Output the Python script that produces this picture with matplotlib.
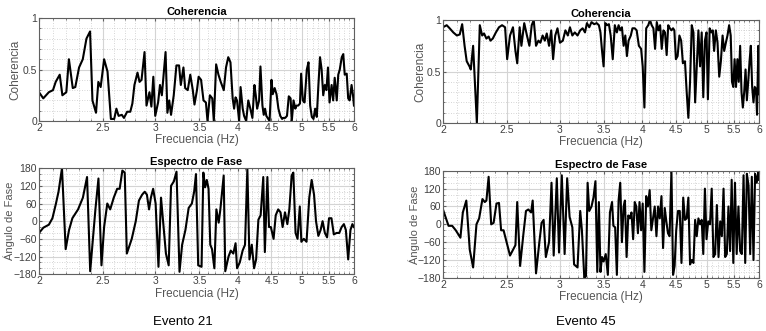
import numpy as np
import matplotlib
matplotlib.use("Agg")
import matplotlib.pyplot as plt
from matplotlib.ticker import FixedLocator, NullFormatter, MultipleLocator

plt.rcParams['font.family'] = ['Liberation Sans', 'DejaVu Sans']

# Evento 21 - coherencia
f_coh21 = [2.00, 2.03, 2.07, 2.10, 2.12, 2.15, 2.17, 2.20, 2.22, 2.25, 2.27, 2.30, 2.33, 2.36, 2.39,
           2.41, 2.44, 2.46, 2.48, 2.51, 2.54, 2.57, 2.60, 2.62, 2.64, 2.67, 2.69, 2.72, 2.75, 2.77,
           2.79, 2.82, 2.84, 2.86, 2.89, 2.91, 2.94, 2.96, 2.98, 3.00, 3.03, 3.05, 3.07, 3.11, 3.13,
           3.15, 3.17, 3.20, 3.23, 3.26, 3.28, 3.31, 3.33, 3.36, 3.39, 3.42, 3.44, 3.47, 3.49, 3.52,
           3.55, 3.58, 3.60, 3.63, 3.66, 3.68, 3.71, 3.74, 3.77, 3.81, 3.84, 3.87, 3.90, 3.93, 3.95,
           3.97, 3.99, 4.02, 4.04, 4.07, 4.09, 4.12, 4.15, 4.18, 4.21, 4.24, 4.26, 4.28, 4.31, 4.33,
           4.36, 4.38, 4.40, 4.42, 4.45, 4.47, 4.50, 4.52, 4.55, 4.58, 4.61, 4.64, 4.67, 4.69, 4.72,
           4.75, 4.78, 4.81, 4.83, 4.86, 4.89, 4.91, 4.94, 4.97, 4.99, 5.02, 5.05, 5.09, 5.12, 5.15,
           5.18, 5.21, 5.24, 5.27, 5.30, 5.33, 5.36, 5.39, 5.42, 5.45, 5.48, 5.51, 5.55, 5.58, 5.61,
           5.65, 5.68, 5.71, 5.75, 5.78, 5.81, 5.85, 5.88, 5.91, 5.95, 5.98, 6.00]
coh21 = [0.28, 0.22, 0.28, 0.30, 0.38, 0.45, 0.25, 0.28, 0.60, 0.32, 0.33, 0.52, 0.60, 0.80, 0.87,
         0.20, 0.08, 0.38, 0.33, 0.60, 0.48, 0.02, 0.02, 0.12, 0.05, 0.06, 0.03, 0.09, 0.09, 0.17,
         0.35, 0.47, 0.38, 0.40, 0.67, 0.15, 0.28, 0.14, 0.43, 0.05, 0.18, 0.35, 0.25, 0.67, 0.08,
         0.20, 0.06, 0.25, 0.54, 0.54, 0.35, 0.52, 0.32, 0.30, 0.45, 0.30, 0.16, 0.30, 0.43, 0.40,
         0.20, 0.18, 0.00, 0.25, 0.22, 0.00, 0.55, 0.45, 0.38, 0.30, 0.52, 0.62, 0.57, 0.22, 0.12,
         0.23, 0.20, 0.00, 0.33, 0.12, 0.05, 0.00, 0.20, 0.12, 0.03, 0.35, 0.25, 0.12, 0.20, 0.53,
         0.15, 0.06, 0.12, 0.05, 0.02, 0.00, 0.40, 0.26, 0.32, 0.26, 0.12, 0.05, 0.02, 0.03, 0.03,
         0.05, 0.24, 0.22, 0.00, 0.20, 0.12, 0.15, 0.15, 0.17, 0.46, 0.20, 0.18, 0.50, 0.57, 0.15,
         0.04, 0.02, 0.12, 0.04, 0.35, 0.62, 0.50, 0.25, 0.35, 0.30, 0.52, 0.18, 0.35, 0.20, 0.42,
         0.20, 0.45, 0.50, 0.62, 0.65, 0.45, 0.46, 0.22, 0.20, 0.35, 0.25, 0.15]

# Evento 21 - fase
f_fase21 = [2.000, 2.031, 2.070, 2.096, 2.122, 2.141, 2.167, 2.195, 2.221, 2.247, 2.292, 2.331, 2.365,
            2.391, 2.435, 2.461, 2.487, 2.510, 2.538, 2.564, 2.596, 2.627, 2.650, 2.675, 2.697, 2.717,
            2.764, 2.803, 2.834, 2.866, 2.892, 2.914, 2.936, 2.955, 2.978, 3.004, 3.034, 3.061, 3.114,
            3.144, 3.170, 3.201, 3.231, 3.265, 3.295, 3.333, 3.371, 3.409, 3.436, 3.458, 3.485, 3.526,
            3.548, 3.570, 3.591, 3.613, 3.635, 3.657, 3.687, 3.713, 3.743, 3.765, 3.809, 3.830, 3.874,
            3.904, 3.939, 3.970, 3.991, 4.029, 4.069, 4.103, 4.137, 4.167, 4.201, 4.235, 4.265, 4.299,
            4.333, 4.373, 4.397, 4.436, 4.461, 4.490, 4.533, 4.567, 4.606, 4.644, 4.678, 4.717, 4.756,
            4.789, 4.828, 4.856, 4.894, 4.928, 4.967, 4.994, 5.037, 5.085, 5.134, 5.177, 5.220, 5.256,
            5.299, 5.341, 5.378, 5.421, 5.463, 5.500, 5.547, 5.593, 5.647, 5.700, 5.747, 5.793, 5.833,
            5.880, 5.927, 5.967, 6.000]
fase21 = [-40, -22, -12, 10, 60, 100, 180, -95, -30, 10, 40, 80, 150,
          -170, 40, 145, -150, -20, 60, 40, 80, 110, 110, 172, 165, -110,
          -60, 0, 70, 90, 100, 90, 40, 80, 110, 60, -155, 80, -110,
          -150, 120, 135, 168, -172, -80, -30, 45, 60, 100, 160, -150, -155,
          165, 115, 140, 110, -80, -95, -160, 40, -5, 40, 155, -170, -120,
          -100, -110, -75, -160, -140, -100, -80, 178, -130, -80, -160, -130, 5,
          20, 150, -105, 150, -20, -20, -60, 20, 40, 30, -20, 30, -10,
          40, 155, 165, -40, -60, 50, -70, -60, -70, 80, 140, 90, 0,
          -50, -30, 0, -40, -55, 10, 10, -45, -40, -40, -20, -10, -30,
          -130, -30, -10, -20]

# Evento 45 - coherencia
f_coh45 = [2.000, 2.026, 2.047, 2.073, 2.099, 2.120, 2.138, 2.156, 2.172, 2.193, 2.203, 2.221, 2.250,
           2.273, 2.292, 2.307, 2.326, 2.344, 2.359, 2.378, 2.404, 2.430, 2.456, 2.482, 2.500, 2.525,
           2.551, 2.573, 2.589, 2.611, 2.627, 2.653, 2.678, 2.701, 2.723, 2.742, 2.764, 2.787, 2.806,
           2.828, 2.850, 2.869, 2.892, 2.914, 2.933, 2.955, 2.978, 3.004, 3.034, 3.061, 3.087, 3.110,
           3.136, 3.163, 3.193, 3.223, 3.250, 3.277, 3.299, 3.326, 3.352, 3.383, 3.413, 3.439, 3.458,
           3.477, 3.496, 3.517, 3.539, 3.561, 3.583, 3.609, 3.635, 3.661, 3.683, 3.704, 3.726, 3.748,
           3.770, 3.791, 3.813, 3.843, 3.865, 3.896, 3.922, 3.952, 3.983, 4.005, 4.029, 4.054, 4.083,
           4.108, 4.132, 4.157, 4.181, 4.206, 4.230, 4.255, 4.279, 4.304, 4.328, 4.353, 4.377, 4.402,
           4.426, 4.451, 4.471, 4.495, 4.522, 4.550, 4.578, 4.606, 4.639, 4.667, 4.694, 4.722, 4.750,
           4.778, 4.806, 4.833, 4.861, 4.889, 4.917, 4.944, 4.972, 5.000, 5.024, 5.055, 5.085, 5.110,
           5.134, 5.165, 5.195, 5.226, 5.256, 5.287, 5.317, 5.348, 5.378, 5.409, 5.439, 5.463, 5.488,
           5.513, 5.540, 5.567, 5.593, 5.620, 5.647, 5.673, 5.700, 5.727, 5.753, 5.780, 5.807, 5.833,
           5.860, 5.887, 5.913, 5.940, 5.960, 5.987, 6.000]
coh45 = [0.93, 0.95, 0.92, 0.88, 0.85, 0.86, 0.96, 0.75, 0.60, 0.55, 0.52, 0.75, 0.00,
         0.95, 0.85, 0.87, 0.82, 0.84, 0.80, 0.82, 0.88, 0.93, 0.95, 0.93, 0.62, 0.85,
         0.93, 0.70, 0.58, 0.93, 0.75, 0.97, 0.85, 0.75, 0.95, 1.00, 0.75, 0.80, 0.78,
         0.85, 0.80, 0.87, 0.75, 0.90, 0.62, 0.85, 0.92, 0.78, 0.80, 0.90, 0.85, 0.93,
         0.85, 0.88, 0.85, 0.90, 0.92, 0.88, 0.97, 0.93, 0.98, 0.96, 0.97, 0.95, 0.88,
         0.70, 0.55, 0.97, 0.95, 0.96, 0.85, 0.62, 0.95, 0.88, 0.95, 0.90, 0.93, 0.75,
         0.85, 0.65, 0.80, 0.85, 0.92, 0.92, 0.90, 0.75, 0.72, 0.55, 0.15, 0.92, 0.95,
         1.00, 0.95, 0.92, 0.72, 0.98, 0.90, 0.95, 0.72, 0.90, 0.88, 0.66, 0.95, 0.92,
         0.90, 0.92, 0.90, 0.62, 0.65, 0.85, 0.80, 0.58, 0.60, 0.30, 0.05, 0.40, 0.95,
         0.88, 0.20, 0.55, 0.90, 0.55, 0.88, 0.25, 0.80, 0.88, 0.23, 0.92, 0.88, 0.90,
         0.70, 0.90, 0.78, 0.45, 0.60, 0.85, 0.70, 0.78, 0.85, 0.95, 0.85, 0.40, 0.35,
         0.62, 0.35, 0.62, 0.40, 0.75, 0.30, 0.15, 0.30, 0.52, 0.22, 0.40, 0.60, 0.75,
         0.35, 0.20, 0.35, 0.33, 0.08, 0.75, 0.28]

# Evento 45 - fase
f_fase45 = [2.000, 2.021, 2.039, 2.065, 2.091, 2.125, 2.143, 2.169, 2.195, 2.221, 2.247, 2.268, 2.294,
            2.313, 2.326, 2.344, 2.365, 2.385, 2.409, 2.430, 2.448, 2.469, 2.495, 2.525, 2.573, 2.589,
            2.615, 2.646, 2.669, 2.691, 2.717, 2.732, 2.764, 2.796, 2.818, 2.838, 2.860, 2.892, 2.917,
            2.939, 2.971, 2.994, 3.023, 3.053, 3.080, 3.106, 3.136, 3.155, 3.193, 3.223, 3.242, 3.269,
            3.288, 3.307, 3.326, 3.352, 3.375, 3.398, 3.420, 3.439, 3.458, 3.477, 3.496, 3.522, 3.548,
            3.574, 3.600, 3.617, 3.639, 3.661, 3.683, 3.704, 3.726, 3.748, 3.765, 3.787, 3.809, 3.830,
            3.852, 3.874, 3.896, 3.917, 3.939, 3.961, 3.983, 4.005, 4.029, 4.054, 4.078, 4.103, 4.127,
            4.152, 4.176, 4.201, 4.225, 4.250, 4.275, 4.299, 4.324, 4.348, 4.373, 4.397, 4.426, 4.451,
            4.475, 4.500, 4.528, 4.556, 4.583, 4.611, 4.639, 4.667, 4.694, 4.722, 4.750, 4.778, 4.806,
            4.833, 4.861, 4.889, 4.917, 4.944, 4.972, 5.000, 5.030, 5.061, 5.091, 5.122, 5.152, 5.183,
            5.213, 5.244, 5.274, 5.305, 5.335, 5.366, 5.396, 5.427, 5.457, 5.488, 5.520, 5.553, 5.587,
            5.620, 5.653, 5.687, 5.720, 5.753, 5.787, 5.820, 5.853, 5.887, 5.920, 5.953, 5.987, 6.000]
fase45 = [50, 20, -5, -5, -20, -45, 40, 80, -85, -145, 0, 20, 85,
          75, 80, 160, 0, 5, 70, 72, -20, -20, -60, -105, -70, 75,
          -140, -30, 45, 50, 40, 80, -165, -60, 5, 15, -110, -60, 140,
          -105, 155, -95, 165, -100, 155, 25, -10, -135, -145, 45, -20, -180,
          -175, 140, 45, 60, 90, 145, -160, 75, -160, -110, -125, -100, -170,
          40, 75, -5, -10, -170, 80, 140, -60, 60, 80, -110, 30, 20,
          40, -50, 75, 60, -30, 75, -20, 70, -160, 95, 60, 115, -20,
          20, 60, -40, 60, 20, 95, -80, 55, 10, -30, -40, 180, -170,
          -140, -20, 45, 45, -130, 90, 15, 20, 90, -135, -120, -130, 15,
          -40, 20, 0, 15, -100, 120, -50, 10, 0, 120, -110, -100, 65,
          -110, 10, -40, 120, -110, -100, 60, -90, 150, -130, 140, -100, 60,
          -90, -100, 165, -130, 170, 130, -100, 160, -120, 170, 140, 175, 150]

xticks = [2, 2.5, 3, 3.5, 4, 4.5, 5, 5.5, 6]
xtick_labels = ['2', '2.5', '3', '3.5', '4', '4.5', '5', '5.5', '6']
xminor = [2.1, 2.2, 2.3, 2.4, 2.6, 2.7, 2.8, 2.9, 3.1, 3.2, 3.3, 3.4, 3.6, 3.7, 3.8, 3.9,
          4.1, 4.2, 4.3, 4.4, 4.6, 4.7, 4.8, 4.9, 5.1, 5.2, 5.3, 5.4, 5.6, 5.7, 5.8, 5.9]

tick_col = '#404040'
lab_col = '#555555'


def style_axes(ax, title, ylabel, ylim, yticks, yminor, ylab_x, ylab_size):
    ax.set_xscale('log')
    ax.set_xlim(2, 6)
    ax.set_ylim(*ylim)
    ax.xaxis.set_major_locator(FixedLocator(xticks))
    ax.set_xticklabels(xtick_labels)
    ax.xaxis.set_minor_locator(FixedLocator(xminor))
    ax.xaxis.set_minor_formatter(NullFormatter())
    ax.set_yticks(yticks)
    ax.yaxis.set_minor_locator(MultipleLocator(yminor))
    ax.grid(True, which='major', color='#d4d4d4', linewidth=0.8, linestyle='-')
    ax.grid(True, which='minor', color='#c8c8c8', linewidth=0.6, linestyle=(0, (1, 2)))
    ax.set_axisbelow(True)
    ax.tick_params(which='both', direction='in', top=True, right=True, length=2.5,
                   colors='#606060', labelcolor=tick_col, labelsize=7.5, pad=1.5)
    ax.tick_params(which='minor', length=1.5)
    for s in ax.spines.values():
        s.set_color('#606060')
        s.set_linewidth(0.8)
    ax.set_title(title, fontsize=8, fontweight='bold', pad=2)
    ax.set_xlabel('Frecuencia (Hz)', fontsize=8.5, color=lab_col, labelpad=1)
    ax.set_ylabel(ylabel, fontsize=ylab_size, color=lab_col, va='center')
    ax.yaxis.set_label_coords(ylab_x, 0.5)


fig = plt.figure(figsize=(7.66, 3.31), dpi=100)

ax1 = fig.add_axes([0.0509, 0.6344, 0.4112, 0.311])
ax1.plot(f_coh21, coh21, color='black', linewidth=1.5)
style_axes(ax1, 'Coherencia', 'Coherencia', (0, 1), [0, 0.5, 1], 0.1, -0.076, 8.5)
ax1.set_yticklabels(['0', '0.5', '1'])

ax2 = fig.add_axes([0.0509, 0.1717, 0.4112, 0.3202])
ax2.plot(f_fase21, fase21, color='black', linewidth=1.5)
style_axes(ax2, 'Espectro de Fase', 'Ángulo de Fase', (-180, 180),
           [-180, -120, -60, 0, 60, 120, 180], 20, -0.093, 8)

ax3 = fig.add_axes([0.5783, 0.6284, 0.4125, 0.311])
ax3.plot(f_coh45, coh45, color='black', linewidth=1.5)
style_axes(ax3, 'Coherencia', 'Coherencia', (0, 1), [0, 0.5, 1], 0.1, -0.07, 8.5)
ax3.set_yticklabels(['0', '0.5', '1'])

ax4 = fig.add_axes([0.5783, 0.1606, 0.4125, 0.3233])
ax4.plot(f_fase45, fase45, color='black', linewidth=1.5)
style_axes(ax4, 'Espectro de Fase', 'Ángulo de Fase', (-180, 180),
           [-180, -120, -60, 0, 60, 120, 180], 20, -0.092, 8)

fig.text(183 / 766, 1 - 322 / 331, 'Evento 21', ha='center', va='center', fontsize=9.5)
fig.text(586 / 766, 1 - 322 / 331, 'Evento 45', ha='center', va='center', fontsize=9.5)

fig.savefig('out.png', dpi=100)
